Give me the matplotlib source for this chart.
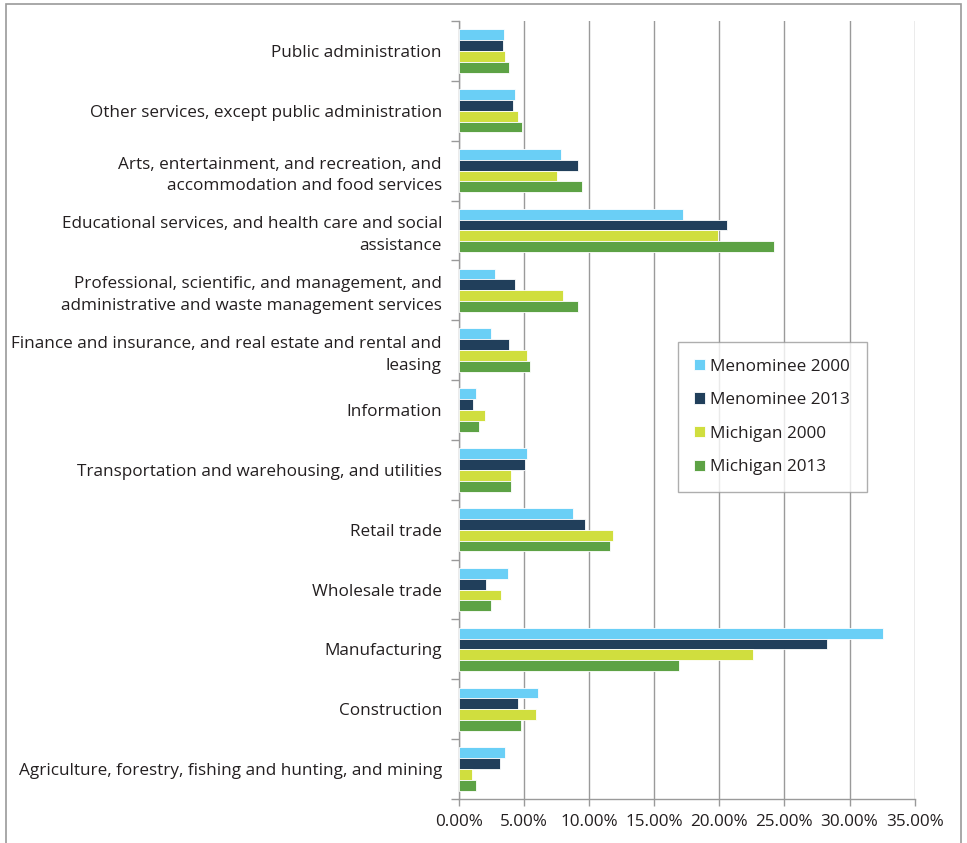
import numpy as np
import matplotlib
matplotlib.use("Agg")
import matplotlib.pyplot as plt
from matplotlib.patches import Rectangle
from matplotlib.ticker import FuncFormatter, FixedLocator

plt.rcParams["font.family"] = ["Open Sans", "DejaVu Sans"]

categories = [
    "Agriculture, forestry, fishing and hunting, and mining",
    "Construction",
    "Manufacturing",
    "Wholesale trade",
    "Retail trade",
    "Transportation and warehousing, and utilities",
    "Information",
    "Finance and insurance, and real estate and rental and\nleasing",
    "Professional, scientific, and management, and\nadministrative and waste management services",
    "Educational services, and health care and social\nassistance",
    "Arts, entertainment, and recreation, and\naccommodation and food services",
    "Other services, except public administration",
    "Public administration",
]
menominee_2000 = [3.55, 6.06, 32.59, 3.78, 8.77, 5.27, 1.33, 2.45, 2.76, 17.19, 7.85, 4.35, 3.45]
menominee_2013 = [3.17, 4.55, 28.29, 2.07, 9.67, 5.06, 1.12, 3.86, 4.35, 20.59, 9.18, 4.14, 3.43]
michigan_2000 = [1.05, 5.96, 22.59, 3.25, 11.87, 4.04, 2.04, 5.27, 7.98, 19.88, 7.55, 4.55, 3.55]
michigan_2013 = [1.35, 4.76, 16.88, 2.45, 11.59, 4.04, 1.56, 5.47, 9.18, 24.20, 9.46, 4.86, 3.84]

series = [
    ("Menominee 2000", menominee_2000, "#6acff6"),
    ("Menominee 2013", menominee_2013, "#213f5b"),
    ("Michigan 2000", michigan_2000, "#d0de3e"),
    ("Michigan 2013", michigan_2013, "#5da245"),
]

fig = plt.figure(figsize=(9.67, 8.43), dpi=100)
ax = fig.add_axes([0.4743, 0.0522, 0.4716, 0.9229])

y = np.arange(len(categories))
h = 0.181
offsets = [1.5, 0.5, -0.5, -1.5]
for (name, vals, col), off in zip(series, offsets):
    ax.barh(y + off * h, vals, height=h, color=col, edgecolor="white",
            linewidth=0.6, label=name, zorder=3)

ax.set_xlim(0, 35)
ax.set_ylim(-0.5, len(categories) - 0.5)
ax.set_xticks(np.arange(0, 36, 5))
ax.xaxis.set_major_formatter(FuncFormatter(lambda v, p: f"{v:.2f}%"))
ax.grid(axis="x", color="#9a9a9a", linewidth=1, zorder=0)

ax.set_yticks(y)
ax.set_yticklabels(categories, fontsize=12.3, color="#231f20", linespacing=1.45)
ax.yaxis.set_minor_locator(FixedLocator(np.arange(-0.5, len(categories), 1)))
ax.tick_params(axis="y", which="major", length=0, pad=12)
ax.tick_params(axis="y", which="minor", length=6, color="#9a9a9a", width=1)
ax.tick_params(axis="x", length=5, color="#9a9a9a", width=1, labelsize=12.3,
               labelcolor="#231f20", pad=6)
for lbl in ax.get_yticklabels():
    lbl.set_multialignment("right")

for s in ["top", "right"]:
    ax.spines[s].set_visible(False)
for s in ["left", "bottom"]:
    ax.spines[s].set_color("#9a9a9a")
    ax.spines[s].set_linewidth(1)

leg = ax.legend(loc="upper left", bbox_to_anchor=(0.481, 0.587), fontsize=12.3,
                frameon=True, fancybox=False, edgecolor="#9a9a9a",
                handlelength=0.65, handleheight=0.65, handletextpad=0.3,
                labelspacing=1.03, borderpad=0.95, borderaxespad=0)
leg.get_frame().set_linewidth(1)
for t in leg.get_texts():
    t.set_color("#231f20")

fig.patches.append(Rectangle((6 / 967, -0.05), 955 / 967, 1.05 - 4 / 843,
                             transform=fig.transFigure, fill=False,
                             edgecolor="#9a9a9a", linewidth=1.2))

fig.savefig("out.png", dpi=100)
